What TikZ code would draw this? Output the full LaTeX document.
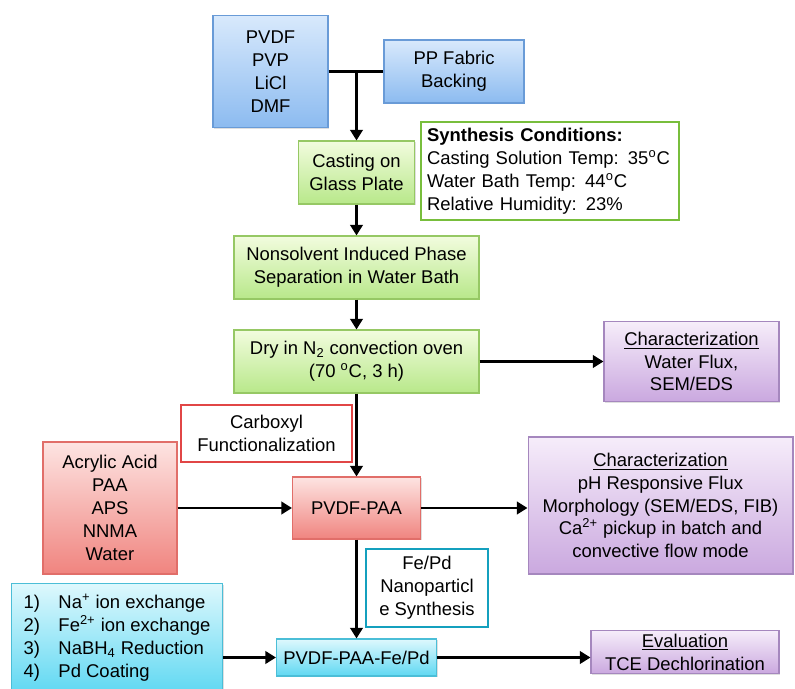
\documentclass[tikz,border=0pt]{standalone}
\usepackage{fontspec}
\setmainfont{Liberation Sans}
\usetikzlibrary{arrows.meta,shadows}
\definecolor{blueT}{RGB}{216,233,252}
\definecolor{blueB}{RGB}{140,187,240}
\definecolor{blueD}{RGB}{105,155,215}
\definecolor{greenT}{RGB}{242,252,222}
\definecolor{greenB}{RGB}{184,232,138}
\definecolor{greenD}{RGB}{150,200,100}
\definecolor{redT}{RGB}{253,228,226}
\definecolor{redB}{RGB}{240,132,127}
\definecolor{redD}{RGB}{225,110,105}
\definecolor{purpT}{RGB}{246,237,250}
\definecolor{purpB}{RGB}{202,168,223}
\definecolor{purpD}{RGB}{165,135,190}
\definecolor{cyanT}{RGB}{222,248,253}
\definecolor{cyanB}{RGB}{95,216,242}
\definecolor{cyanD}{RGB}{75,190,215}
\definecolor{condC}{RGB}{120,190,60}
\definecolor{carbC}{RGB}{225,70,70}
\definecolor{fepdC}{RGB}{20,160,190}
\begin{document}
\begin{tikzpicture}[x=0.02cm,y=-0.02cm,
    font=\fontsize{10.5}{13}\selectfont,
    box/.style={draw, line width=0.6pt, align=center, inner sep=2pt,
        drop shadow={opacity=0.25, shadow xshift=0.6pt, shadow yshift=-0.8pt}},
    bluebox/.style={box, draw=blueD, top color=blueT, bottom color=blueB},
    greenbox/.style={box, draw=greenD, top color=greenT, bottom color=greenB},
    redbox/.style={box, draw=redD, top color=redT, bottom color=redB},
    purplebox/.style={box, draw=purpD, top color=purpT, bottom color=purpB},
    cyanbox/.style={box, draw=cyanD, top color=cyanT, bottom color=cyanB},
    outline/.style={draw, line width=1.2pt, fill=white, align=center},
    link/.style={line width=1.6pt, -{Triangle[length=6pt,width=7pt]}}]
    \useasboundingbox (0,0) rectangle (795,689);
    % membrane casting
    \node[bluebox, minimum width=2.3cm, minimum height=2.24cm] (mix) at (270.5,71.5) {PVDF\\PVP\\LiCl\\DMF};
    \node[bluebox, minimum width=2.8cm, minimum height=1.26cm] (fabric) at (454,71.5) {PP Fabric\\Backing};
    \node[greenbox, minimum width=2.32cm, minimum height=1.26cm] (cast) at (356.5,172.5) {Casting on\\Glass Plate};
    \node[outline, draw=condC, align=left, text width=4.92cm, inner xsep=0.12cm, minimum height=1.96cm] (cond) at (550,171)
        {\textbf{Synthesis Conditions:}\\Casting Solution Temp: 35\textsuperscript{o}C\\Water Bath Temp: 44\textsuperscript{o}C\\Relative Humidity: 23\%};
    \node[greenbox, minimum width=4.9cm, minimum height=1.26cm] (nips) at (356.5,267.5) {Nonsolvent Induced Phase\\Separation in Water Bath};
    \node[greenbox, minimum width=4.9cm, minimum height=1.26cm] (dry) at (356.5,361.5) {Dry in N\textsubscript{2} convection oven\\(70 \textsuperscript{o}C, 3 h)};
    \node[purplebox, minimum width=3.5cm, minimum height=1.6cm] (char1) at (691.5,361.5) {\underline{Characterization}\\Water Flux,\\SEM/EDS};
    % functionalization
    \node[outline, draw=carbC, minimum width=3.42cm, minimum height=1.14cm] (carb) at (266.5,433.5) {Carboxyl\\Functionalization};
    \node[redbox, minimum width=2.68cm, minimum height=2.64cm] (acryl) at (110,508) {Acrylic Acid\\PAA\\APS\\NNMA\\Water};
    \node[redbox, minimum width=2.56cm, minimum height=1.24cm] (paa) at (356.5,508) {PVDF-PAA};
    \node[purplebox, minimum width=5.3cm, minimum height=2.74cm] (char2) at (660.5,505.5)
        {\underline{Characterization}\\pH Responsive Flux\\Morphology (SEM/EDS, FIB)\\Ca\textsuperscript{2+} pickup in batch and\\convective flow mode};
    % nanoparticles
    \node[outline, draw=fepdC, minimum width=2.44cm, minimum height=1.56cm] (fepd) at (427,588) {Fe/Pd\\Nanoparticl\\e Synthesis};
    \node[cyanbox, anchor=north west, minimum width=4.22cm, minimum height=2.2cm] (steps) at (11,583)
        {\begin{tabular}{@{}p{0.7cm}@{}l@{}}
         1) & Na\textsuperscript{+} ion exchange\\
         2) & Fe\textsuperscript{2+} ion exchange\\
         3) & NaBH\textsubscript{4} Reduction\\
         4) & Pd Coating
         \end{tabular}};
    \node[cyanbox, minimum width=3.2cm, minimum height=0.74cm] (fepdm) at (356.5,657.5) {PVDF-PAA-Fe/Pd};
    \node[purplebox, minimum width=3.76cm, minimum height=0.8cm] (eval) at (685,652) {\underline{Evaluation}\\TCE Dechlorination};
    % connectors
    \coordinate (split) at (cast.north |- mix.east);
    \draw[line width=1.6pt] (mix.east) -- (fabric.west);
    \draw[link] (split) -- (cast);
    \draw[link] (cast) -- (nips);
    \draw[link] (nips) -- (dry);
    \draw[link] (dry) -- (char1);
    \draw[link] (dry) -- (paa);
    \draw[link] (acryl) -- (paa);
    \draw[link] (paa.east) -- (paa.east -| char2.west);
    \draw[link] (paa) -- (fepdm);
    \draw[link] (steps.east |- fepdm.west) -- (fepdm.west);
    \draw[link] (fepdm.east) -- (fepdm.east -| eval.west);
\end{tikzpicture}
\end{document}
